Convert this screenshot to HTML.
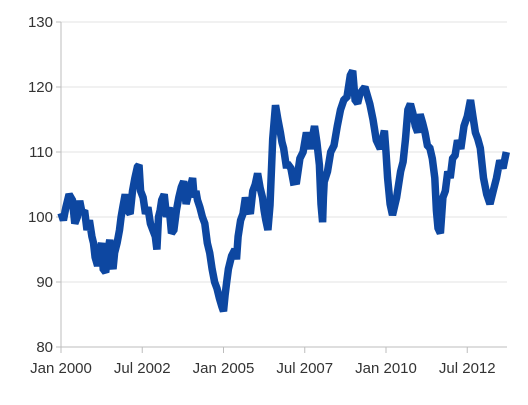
<!DOCTYPE html>
<html><head><meta charset="utf-8"><style>
html,body{margin:0;padding:0;background:#fff;}
svg{display:block;font-family:"Liberation Sans",sans-serif;}
</style></head><body>
<svg id="chart" width="528" height="405">
<g id="grid"></g>
<g id="yaxis"></g>
<g id="xaxis"></g>
<g id="series"></g>
</svg>
<script>
const years=[2000.0,2000.15,2000.35,2000.5,2000.65,2000.8,2000.95,2001.05,2001.2,2001.3,2001.45,2001.55,2001.65,2001.8,2001.9,2002.05,2002.2,2002.35,2002.45,2002.6,2002.75,2002.9,2003.0,2003.1,2003.25,2003.4,2003.55,2003.7,2003.85,2004.0,2004.1,2004.2,2004.35,2004.5,2004.65,2004.8,2004.95,2005.05,2005.15,2005.35,2005.45,2005.6,2005.75,2005.9,2006.05,2006.2,2006.3,2006.43,2006.6,2006.75,2006.85,2007.0,2007.15,2007.35,2007.55,2007.8,2007.95,2008.05,2008.1,2008.3,2008.5,2008.7,2008.9,2009.05,2009.2,2009.5,2009.7,2009.95,2010.05,2010.2,2010.45,2010.6,2010.75,2010.9,2011.05,2011.2,2011.35,2011.5,2011.6,2011.75,2011.9,2012.05,2012.2,2012.4,2012.6,2012.75,2012.9,2013.1,2013.3,2013.5,2013.7];
const values=[100.6,101.5,102.6,100,100.6,98,97,93.8,95,92,95,93,94.5,98,101.5,101,104,107.7,104,100.5,99,97,100,102.6,100,97.5,101,104.6,102,105,103,102.6,100,96,92,89,86.2,88,92,95,97,100.5,101.5,104,106.7,103,99.6,101.8,117.2,113,110.6,108,105.4,109,113,114,108,99.2,105.4,110,114,118,121.8,118,119,117.4,111.8,113.3,106,100.3,107,112,117.4,114,115.8,113,110.6,106,98.3,103,107,109,111.8,114,118,113,110.6,103.5,104,108.7,110];
const midValues=[99.5,103.5,99,102.5,101,99.5,96,92.5,96,91.5,96.5,92,96,100,103.5,100.5,106,108,103,101.5,98,95,101,103.5,101.5,98,103,105.5,103.5,106,104,101.5,99,94.5,90,87.5,85.5,90,94,93.5,99.5,103,100.5,105,104.5,101,98,112,115,111.5,108,107.5,105.5,110,110.5,111.5,102,103,107,111,116.5,118.5,122.5,117.5,120,115,110.5,110,102,103,108.5,116.5,116,113,114.5,111,109,101,97.5,104,106,109.5,110.5,115.5,115.5,112,106,102,106,107.5];
const yTicks=[80,90,100,110,120,130];
const xTickYears=[2000,2002.5,2005,2007.5,2010,2012.5];
const xTickLabels=["Jan 2000","Jul 2002","Jan 2005","Jul 2007","Jan 2010","Jul 2012"];
const X0=61,X1=507,Y0=347,Y1=22;
const xs=y=>X0+(y-2000)*32.5;
const ys=v=>Y0-(v-80)*(Y0-Y1)/50;
const NS="http://www.w3.org/2000/svg";
function mk(t,p,a){const e=document.createElementNS(NS,t);for(const k in a)e.setAttribute(k,a[k]);p.appendChild(e);return e;}
const grid=document.getElementById('grid'),ya=document.getElementById('yaxis'),xa=document.getElementById('xaxis'),se=document.getElementById('series');
yTicks.forEach(v=>{
 const l=mk('line',grid,{x1:X0,x2:X1,y1:ys(v),y2:ys(v),stroke:v===80?'#bdbdbd':'#e3e3e3','stroke-width':1});
 
 
 const tk=mk('line',ya,{x1:X0-5,x2:X0,y1:ys(v),y2:ys(v),stroke:'#bdbdbd'});
 
 
 const t=mk('text',ya,{x:X0-8,y:ys(v)+5,'text-anchor':'end','font-size':15,fill:'#333'});
 t.textContent=v;
 
 
});
const ax=mk('line',ya,{x1:X0,x2:X0,y1:Y1,y2:Y0,stroke:'#bdbdbd'});


xTickYears.forEach((y,i)=>{
 const tk=mk('line',xa,{x1:xs(y),x2:xs(y),y1:Y0,y2:Y0+6,stroke:'#bdbdbd'});
 
 
 const t=mk('text',xa,{x:xs(y),y:Y0+26,'text-anchor':'middle','font-size':15,fill:'#333'});
 t.textContent=xTickLabels[i];
 
 
});
let d='';
years.forEach((y,i)=>{
 d+=(i?'L':'M')+xs(y).toFixed(1)+' '+ys(values[i]).toFixed(1);
 if(i<years.length-1){
  const my=(y+years[i+1])/2;
  d+='L'+xs(my).toFixed(1)+' '+ys(midValues[i]).toFixed(1);
 }
});
const p=mk('path',se,{d:d,fill:'none',stroke:'#0d47a1','stroke-width':7.5,'stroke-linejoin':'miter','stroke-miterlimit':1.5});


</script>
</body></html>
